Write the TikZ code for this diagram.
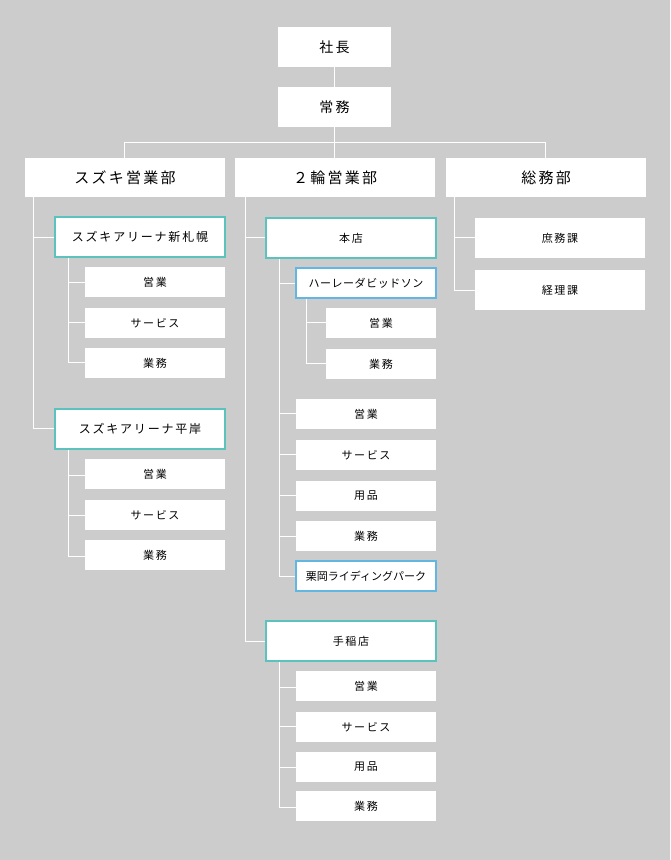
\documentclass[tikz,border=0pt]{standalone}
\usepackage{fontspec}
\setmainfont{Noto Sans CJK JP}[LetterSpace=15]
\definecolor{bg}{HTML}{CCCCCC}
\definecolor{teal}{HTML}{5BC2BE}
\definecolor{lblue}{HTML}{62B6E2}
\tikzset{
 bx/.style={draw=none,fill=white,inner sep=0},
 ln/.style={draw=white,line width=0.8pt},
}
\newcommand{\B}[7][]{% name,x1,y1,x2,y2,text
 \fill[white,#1] (#3,#4) rectangle (#5,#6);
 \node[inner sep=0] (#2) at ({(#3+#5)/2},{(#4+#6)/2}) {#7};
 \coordinate (#2w) at (#3,{(#4+#6)/2});}
\begin{document}
\begin{tikzpicture}[x=1pt,y=-1pt]
\fill[bg] (0,0) rectangle (670,860);
\useasboundingbox (0,0) rectangle (670,860);
% lines
\draw[ln] (334,67) -- (334,87);
\draw[ln] (334,127) -- (334,142) (124,158) -- (124,142) -- (545,142) -- (545,158) (334,142)--(334,158);
% left
\draw[ln] (33,197) -- (33,428) (33,237)--(55,237) (33,428)--(55,428);
\draw[ln] (68,257)--(68,362) (68,282)--(85,282) (68,322)--(85,322) (68,362)--(85,362);
\draw[ln] (68,449)--(68,556) (68,475)--(85,475) (68,515)--(85,515) (68,556)--(85,556);
% middle
\draw[ln] (245,197)--(245,641) (245,237)--(266,237) (245,641)--(266,641);
\draw[ln] (279,258)--(279,576);
\foreach \y in {283,413,454,495,536,576} \draw[ln] (279,\y)--(296,\y);
\draw[ln] (306,298)--(306,363) (306,322)--(326,322) (306,363)--(326,363);
\draw[ln] (279,661)--(279,807);
\foreach \y in {687,726,767,807} \draw[ln] (279,\y)--(296,\y);
% right
\draw[ln] (454,197)--(454,290) (454,237)--(475,237) (454,290)--(475,290);
% boxes
\fontsize{11}{13}\selectfont
\B{a}{278}{27}{391}{67}{\fontsize{14}{16}\selectfont 社長}
\B{b}{278}{87}{391}{127}{\fontsize{14}{16}\selectfont 常務}
\B{d1}{25}{158}{225}{197}{\fontsize{15}{17}\selectfont スズキ営業部}
\B{d2}{235}{158}{435}{197}{\fontsize{15}{17}\selectfont ２輪営業部}
\B{d3}{446}{158}{646}{197}{\fontsize{15}{17}\selectfont 総務部}
\B[draw=teal,line width=1.3pt]{s1}{55}{217}{225}{257}{\fontsize{12}{14}\selectfont スズキアリーナ新札幌}
\B{s1a}{85}{267}{225}{297}{営業}
\B{s1b}{85}{308}{225}{338}{サービス}
\B{s1c}{85}{348}{225}{378}{業務}
\B[draw=teal,line width=1.3pt]{s2}{55}{409}{225}{449}{\fontsize{12}{14}\selectfont スズキアリーナ平岸}
\B{s2a}{85}{459}{225}{489}{営業}
\B{s2b}{85}{500}{225}{530}{サービス}
\B{s2c}{85}{540}{225}{570}{業務}
\B[draw=teal,line width=1.3pt]{h}{266}{218}{436}{258}{本店}
\B[draw=lblue,line width=1.3pt]{hd}{296}{268}{436}{298}{\addfontfeature{LetterSpace=5}ハーレーダビッドソン}
\B{hda}{326}{308}{436}{338}{営業}
\B{hdb}{326}{349}{436}{379}{業務}
\B{ha}{296}{399}{436}{429}{営業}
\B{hb}{296}{440}{436}{470}{サービス}
\B{hc}{296}{481}{436}{511}{用品}
\B{hdd}{296}{521}{436}{551}{業務}
\B[draw=lblue,line width=1.3pt]{hk}{296}{561}{436}{591}{\addfontfeature{LetterSpace=0}栗岡ライディングパーク}
\B[draw=teal,line width=1.3pt]{t}{266}{621}{436}{661}{手稲店}
\B{ta}{296}{671}{436}{701}{営業}
\B{tb}{296}{712}{436}{742}{サービス}
\B{tc}{296}{752}{436}{782}{用品}
\B{td}{296}{791}{436}{821}{業務}
\B{g1}{475}{218}{645}{258}{庶務課}
\B{g2}{475}{270}{645}{310}{経理課}
\end{tikzpicture}
\end{document}
